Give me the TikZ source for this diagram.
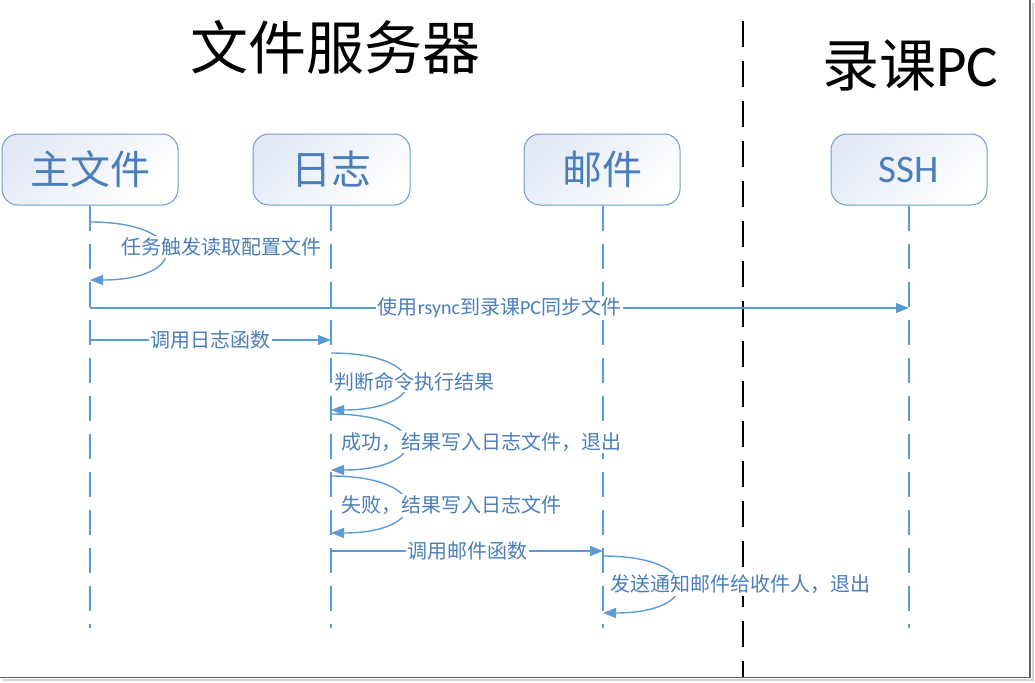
\documentclass[tikz,border=0pt]{standalone}
\usepackage{fontspec}
\setmainfont{Noto Sans CJK SC}
\newfontfamily\lat{Carlito}
\usetikzlibrary{arrows.meta}
\definecolor{ln}{HTML}{5B9BD5}
\definecolor{tx}{HTML}{4A7EBB}
\definecolor{bd}{HTML}{6D9BD1}
\definecolor{bx}{HTML}{E2E9F5}
\begin{document}
\begin{tikzpicture}[x=1pt,y=-1pt,
  actor/.style={draw=bd,line width=1pt,rounded corners=16pt,minimum height=71pt,
    top color=bx,bottom color=white,shading angle=45,text=tx,
    font=\fontsize{40}{42}\selectfont,inner sep=0pt},
  life/.style={draw=ln,line width=1.4pt,dash pattern=on 25pt off 13pt},
  msg/.style={draw=ln,line width=1.4pt,-{Triangle[length=13pt,width=10pt]}},
  lbl/.style={fill=white,text=tx,font=\fontsize{20}{22}\selectfont,inner sep=1.5pt},
  slbl/.style={lbl,anchor=west},
  title/.style={text=black,inner sep=0pt}]
\useasboundingbox (0,0) rectangle (1035,682);
% frame with shadow
\draw[gray!35,line width=2pt] (1033,3) -- (1033,680) -- (3,680);
\draw[gray!75!black,line width=1.2pt] (1030,0) -- (1030,677.5) -- (0,677.5);
% titles
\node[title,font=\fontsize{58}{62}\selectfont] (t1) at (335,47) {文件服务器};
\node[title,font=\fontsize{57}{60}\selectfont] (t2) at (910,65) {录课{\lat\fontsize{59}{62}\selectfont PC}};
% divider
\coordinate (dv1) at (743,21);
\coordinate (dv2) at (743,677);
\draw[black,line width=1.8pt,dash pattern=on 26pt off 14pt] (dv1) -- (dv2);
% actors
\node[actor,minimum width=176pt] (zwj) at (90,169.5) {主文件};
\node[actor,minimum width=157pt] (rz) at (331.5,169.5) {日志};
\node[actor,minimum width=156pt] (yj) at (602,169.5) {邮件};
\node[actor,minimum width=156pt,font=\lat\fontsize{39}{42}\selectfont] (ssh) at (909,169.5) {SSH};
% lifelines
\coordinate (zwjE) at (90,628);
\coordinate (rzE) at (331,628);
\coordinate (yjE) at (603,628);
\coordinate (sshE) at (909,628);
\draw[life] (zwj.south) -- (zwjE);
\draw[life] (rz.south -| rzE) -- (rzE);
\draw[life] (yj.south -| yjE) -- (yjE);
\draw[life] (ssh.south) -- (sshE);
% message points
\coordinate (a1) at (90,222);  \coordinate (a2) at (90,280);
\coordinate (b1) at (90,308);  \coordinate (b2) at (909,308);
\coordinate (c1) at (90,340);  \coordinate (c2) at (331,340);
\coordinate (d1) at (331,353); \coordinate (d2) at (331,410);
\coordinate (e1) at (331,414); \coordinate (e2) at (331,470);
\coordinate (f1) at (331,476); \coordinate (f2) at (331,533);
\coordinate (g1) at (331,551); \coordinate (g2) at (603,551);
\coordinate (h1) at (603,556); \coordinate (h2) at (603,613);
% messages
\draw[msg] (a1) .. controls +(100,0) and +(100,0) .. (a2);
\node[lbl] (la) at (221,247) {任务触发读取配置文件};
\draw[msg] (b1) -- node[lbl] (lb) {使用{\lat rsync}到录课{\lat PC}同步文件} (b2);
\draw[msg] (c1) -- node[lbl] (lc) {调用日志函数} (c2);
\draw[msg] (d1) .. controls +(100,0) and +(100,0) .. (d2);
\node[slbl] (ld) at (333,381.5) {判断命令执行结果};
\draw[msg] (e1) .. controls +(100,0) and +(100,0) .. (e2);
\node[slbl] (le) at (340,442) {成功，结果写入日志文件，退出};
\draw[msg] (f1) .. controls +(100,0) and +(100,0) .. (f2);
\node[slbl] (lf) at (340,505.5) {失败，结果写入日志文件};
\draw[msg] (g1) -- node[lbl] (lg) {调用邮件函数} (g2);
\draw[msg] (h1) .. controls +(100,0) and +(100,0) .. (h2);
\node[slbl] (lh) at (609,584.5) {发送通知邮件给收件人，退出};
\end{tikzpicture}
\end{document}
